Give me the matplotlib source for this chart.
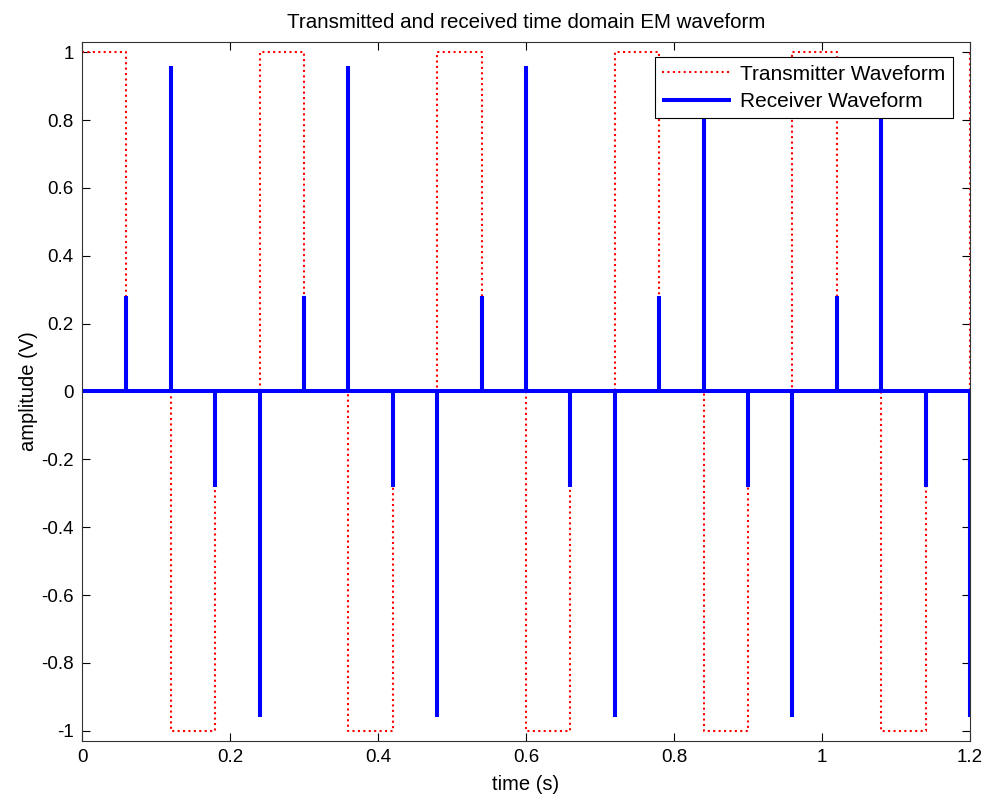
import numpy as np
import matplotlib
matplotlib.use("Agg")
import matplotlib.pyplot as plt
from matplotlib.ticker import FuncFormatter

# =========================
# Data
# =========================

# transmitter: level held from each switch time to the next
tx_times = [0.00, 0.06, 0.12, 0.18, 0.24, 0.30, 0.36, 0.42, 0.48, 0.54,
            0.60, 0.66, 0.72, 0.78, 0.84, 0.90, 0.96, 1.02, 1.08, 1.14, 1.20]
tx_levels = [1, 0, -1, 0, 1, 0, -1, 0, 1, 0,
             -1, 0, 1, 0, -1, 0, 1, 0, -1, 0, 1]

# receiver: spikes at every transmitter switch
rx_spike_times = [0.06, 0.12, 0.18, 0.24, 0.30, 0.36, 0.42, 0.48, 0.54, 0.60,
                  0.66, 0.72, 0.78, 0.84, 0.90, 0.96, 1.02, 1.08, 1.14, 1.20]
rx_spike_amps = [0.28, 0.96, -0.28, -0.96, 0.28, 0.96, -0.28, -0.96, 0.28, 0.96,
                 -0.28, -0.96, 0.28, 0.96, -0.28, -0.96, 0.28, 0.96, -0.28, -0.96]

x_ticks = [0, 0.2, 0.4, 0.6, 0.8, 1.0, 1.2]
y_ticks = [-1, -0.8, -0.6, -0.4, -0.2, 0, 0.2, 0.4, 0.6, 0.8, 1]

# receiver trace: baseline with vertical spikes
rx_x = [0.0]
rx_y = [0.0]
for t, a in zip(rx_spike_times, rx_spike_amps):
    rx_x += [t, t, t]
    rx_y += [0.0, a, 0.0]

# =========================
# Plot
# =========================
plt.rcParams["font.family"] = ["Liberation Sans", "DejaVu Sans"]

fig = plt.figure(figsize=(9.92, 8.01), dpi=100)
ax = fig.add_axes([0.0827, 0.0749, 0.8952, 0.8727])

ax.plot(tx_times, tx_levels, drawstyle="steps-post", color="red",
        linestyle=(0, (1, 1.6)), linewidth=1.5, label="Transmitter Waveform")
ax.plot(rx_x, rx_y, color="blue", linewidth=2.9,
        solid_joinstyle="bevel", solid_capstyle="butt", label="Receiver Waveform")

ax.set_xlim(0, 1.2)
ax.set_ylim(-1.03, 1.03)
ax.set_xticks(x_ticks)
ax.set_yticks(y_ticks)
fmt = FuncFormatter(lambda v, p: "%g" % round(v, 2))
ax.xaxis.set_major_formatter(fmt)
ax.yaxis.set_major_formatter(fmt)

ax.tick_params(direction="in", length=6, width=0.8, top=True, right=True,
               labelsize=13.5, colors="black", pad=6)
for s in ax.spines.values():
    s.set_linewidth(0.8)
    s.set_color("#333333")

ax.set_title("Transmitted and received time domain EM waveform", fontsize=14.8, pad=10)
ax.set_xlabel("time (s)", fontsize=14.5, labelpad=6)
ax.set_ylabel("amplitude (V)", fontsize=14.5, labelpad=2)

leg = ax.legend(loc="upper right", bbox_to_anchor=(0.9805, 0.978), fontsize=15,
                frameon=True, fancybox=False, framealpha=1, borderpad=0.35,
                handlelength=3.3, handletextpad=0.45, labelspacing=0.4,
                borderaxespad=0)
leg.get_frame().set_edgecolor("black")
leg.get_frame().set_linewidth(0.8)

fig.savefig("out.png", dpi=100)
